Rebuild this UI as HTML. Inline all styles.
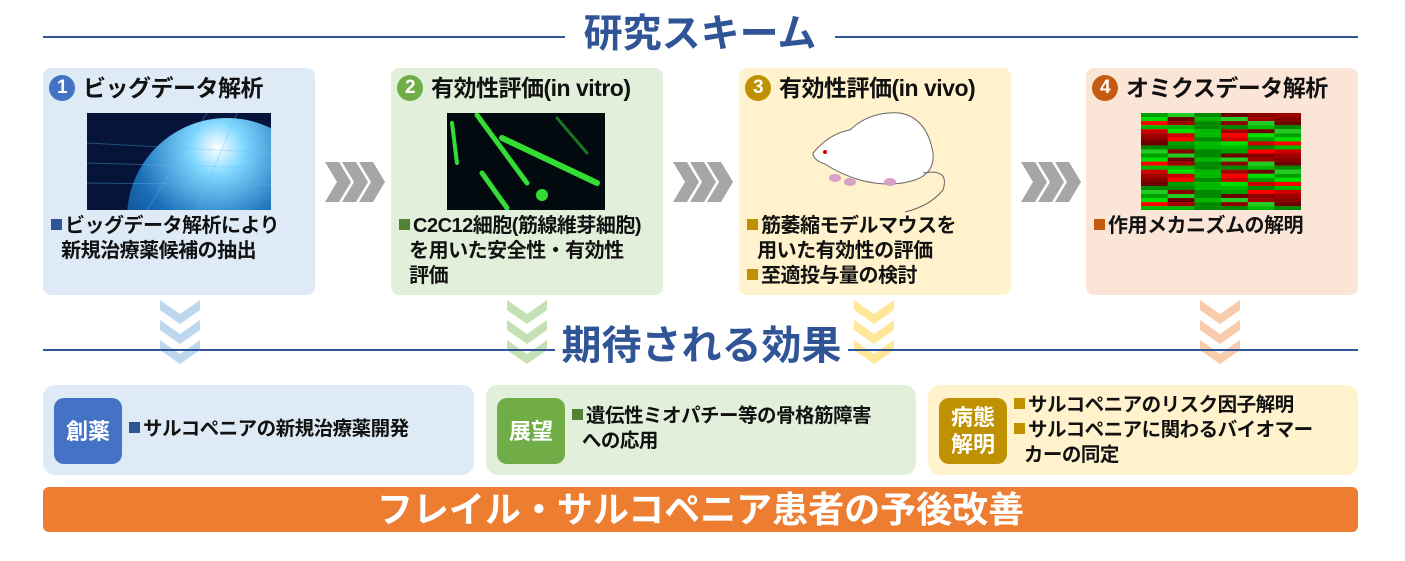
<!DOCTYPE html>
<html><head><meta charset="utf-8"><style>
*{margin:0;padding:0;box-sizing:border-box}
body{width:1405px;height:561px;background:#fff;position:relative;overflow:hidden;font-family:"Liberation Sans","Noto Sans CJK JP",sans-serif;font-weight:bold;color:#111}
.abs{position:absolute}
.line{position:absolute;height:2px;background:#2f5597}
.title{position:absolute;color:#2f5597;font-size:39px;text-align:center;white-space:nowrap;line-height:44px}
.card{position:absolute;top:68px;height:227px;width:272px;border-radius:8px}
.hd{position:absolute;left:6px;top:6px;font-size:23px;white-space:nowrap;line-height:28px;display:flex;align-items:center;letter-spacing:-0.5px}
.num{display:inline-block;width:26px;height:26px;border-radius:50%;color:#fff;text-align:center;line-height:26px;font-size:19px;margin-right:8px}
.tx{position:absolute;left:8px;top:146px;font-size:20px;line-height:25px;white-space:nowrap;letter-spacing:-0.5px}
.sq{display:inline-block;width:11px;height:11px;margin-right:3px;vertical-align:2px}
.bx{position:absolute;top:385px;height:90px;border-radius:12px}
.badge{position:absolute;left:11px;top:13px;width:68px;height:66px;border-radius:10px;color:#fff;font-size:22px;line-height:27px;display:flex;align-items:center;justify-content:center;text-align:center}
.bt{position:absolute;font-size:19.5px;line-height:25px;white-space:nowrap;letter-spacing:-0.5px}
</style></head><body>
<div class="line" style="left:43px;top:36px;width:522px"></div>
<div class="line" style="left:835px;top:36px;width:523px"></div>
<div class="title" style="left:565px;width:270px;top:13px">研究スキーム</div>

<div class="card" style="left:43px;background:#deebf7">
<div class="hd"><span class="num" style="background:#4472c4">1</span>ビッグデータ解析</div>
<svg class="abs" style="left:44px;top:45px" width="184" height="97"><defs><radialGradient id="g1" cx="0.45" cy="0.15" r="0.9"><stop offset="0" stop-color="#ffffff"/><stop offset="0.15" stop-color="#7fd7ff"/><stop offset="0.45" stop-color="#1a6fb8"/><stop offset="1" stop-color="#061a4a"/></radialGradient></defs><rect width="184" height="97" fill="#07143a"/><circle cx="140" cy="105" r="100" fill="url(#g1)"/><g stroke="#5fc0ff" stroke-opacity="0.35"><line x1="0" y1="30" x2="184" y2="40"/><line x1="0" y1="50" x2="184" y2="55"/><line x1="0" y1="70" x2="184" y2="72"/><line x1="60" y1="97" x2="120" y2="0"/><line x1="110" y1="97" x2="150" y2="0"/></g></svg>
<div class="tx"><span class="sq" style="background:#2f5597"></span>ビッグデータ解析により<br>&nbsp;&nbsp;新規治療薬候補の抽出</div>
</div>

<div class="card" style="left:391px;background:#e2efda">
<div class="hd"><span class="num" style="background:#70ad47">2</span>有効性評価(in vitro)</div>
<svg class="abs" style="left:56px;top:45px" width="158" height="97"><rect width="158" height="97" fill="#020a10"/><g stroke="#33dd33" stroke-linecap="round"><line x1="30" y1="2" x2="80" y2="70" stroke-width="5"/><line x1="55" y1="25" x2="150" y2="70" stroke-width="6"/><line x1="35" y1="60" x2="60" y2="95" stroke-width="5"/><line x1="110" y1="5" x2="140" y2="40" stroke-width="3" stroke-opacity="0.5"/><line x1="5" y1="10" x2="10" y2="50" stroke-width="4"/></g><circle cx="95" cy="82" r="6" fill="#33dd33"/></svg>
<div class="tx" style="top:146px"><span class="sq" style="background:#548235"></span>C2C12細胞(筋線維芽細胞)<br>&nbsp;&nbsp;を用いた安全性・有効性<br>&nbsp;&nbsp;評価</div>
</div>

<div class="card" style="left:739px;background:#fff2cc">
<div class="hd"><span class="num" style="background:#bf9000">3</span>有効性評価(in vivo)</div>
<svg class="abs" style="left:66px;top:40px" width="150" height="105"><g fill="#fff" stroke="#666" stroke-width="1"><path d="M8 45 Q25 25 45 22 Q65 3 95 5 Q122 10 128 45 Q130 65 110 72 Q85 80 55 72 Q35 66 20 56 Q8 52 8 45 Z"/><path d="M118 65 Q145 60 138 82 Q125 98 100 104" fill="none"/></g><circle cx="20" cy="44" r="2" fill="#d00"/><g fill="#d9a0c8"><ellipse cx="30" cy="70" rx="6" ry="4"/><ellipse cx="45" cy="74" rx="6" ry="4"/><ellipse cx="85" cy="74" rx="6" ry="4"/></g></svg>
<div class="tx"><span class="sq" style="background:#bf9000"></span>筋萎縮モデルマウスを<br>&nbsp;&nbsp;用いた有効性の評価<br><span class="sq" style="background:#bf9000"></span>至適投与量の検討</div>
</div>

<div class="card" style="left:1086px;background:#fbe5d6">
<div class="hd"><span class="num" style="background:#c55a11">4</span>オミクスデータ解析</div>
<svg class="abs" style="left:55px;top:45px" width="160" height="97" id="hm"></svg>
<div class="tx"><span class="sq" style="background:#c55a11"></span>作用メカニズムの解明</div>
</div>

<svg class="abs" style="left:0;top:0" width="1405" height="561">
<g fill="#a6a6a6">
<path id="ch" d="M325 162h14l12 20-12 20h-14l12-20z"/>
<use href="#ch" x="17"/><use href="#ch" x="34"/>
<use href="#ch" x="348"/><use href="#ch" x="365"/><use href="#ch" x="382"/>
<use href="#ch" x="696"/><use href="#ch" x="713"/><use href="#ch" x="730"/>
</g>
<g fill="#bdd7ee"><path d="M160 300l20 14 20-14v10l-20 14-20-14z"/><path d="M160 320l20 14 20-14v10l-20 14-20-14z"/><path d="M160 340l20 14 20-14v10l-20 14-20-14z"/></g>
<g fill="#c5e0b4"><path d="M507 300l20 14 20-14v10l-20 14-20-14z"/><path d="M507 320l20 14 20-14v10l-20 14-20-14z"/><path d="M507 340l20 14 20-14v10l-20 14-20-14z"/></g>
<g fill="#ffe699"><path d="M854 300l20 14 20-14v10l-20 14-20-14z"/><path d="M854 320l20 14 20-14v10l-20 14-20-14z"/><path d="M854 340l20 14 20-14v10l-20 14-20-14z"/></g>
<g fill="#f8cbad"><path d="M1200 300l20 14 20-14v10l-20 14-20-14z"/><path d="M1200 320l20 14 20-14v10l-20 14-20-14z"/><path d="M1200 340l20 14 20-14v10l-20 14-20-14z"/></g>
</svg>

<div class="line" style="left:43px;top:349px;width:512px"></div>
<div class="line" style="left:848px;top:349px;width:510px"></div>
<div class="title" style="left:555px;width:293px;top:324px;font-size:40px">期待される効果</div>

<div class="bx" style="left:43px;width:431px;background:#deebf7">
<div class="badge" style="background:#4472c4">創薬</div>
<div class="bt" style="left:86px;top:32px"><span class="sq" style="background:#2f5597"></span>サルコペニアの新規治療薬開発</div>
</div>
<div class="bx" style="left:486px;width:430px;background:#e2efda">
<div class="badge" style="background:#70ad47">展望</div>
<div class="bt" style="left:86px;top:19px"><span class="sq" style="background:#548235"></span>遺伝性ミオパチー等の骨格筋障害<br>&nbsp;&nbsp;への応用</div>
</div>
<div class="bx" style="left:928px;width:430px;background:#fff2cc">
<div class="badge" style="background:#bf9000">病態<br>解明</div>
<div class="bt" style="left:86px;top:8px"><span class="sq" style="background:#bf9000"></span>サルコペニアのリスク因子解明<br><span class="sq" style="background:#bf9000"></span>サルコペニアに関わるバイオマー<br>&nbsp;&nbsp;カーの同定</div>
</div>

<div class="abs" style="left:43px;top:487px;width:1315px;height:45px;background:#ed7d31;border-radius:6px;color:#fff;font-size:36px;line-height:45px;text-align:center">フレイル・サルコペニア患者の予後改善</div>

<script>
var s=document.getElementById('hm'),c=['#00a000','#6b0000','#cc0000','#00e000','#008800','#a00000','#ff0000','#22cc22','#880000','#00b800'],h='';
for(var i=0;i<6;i++)for(var j=0;j<24;j++){h+='<rect x="'+(i*26.7)+'" y="'+(j*4.05)+'" width="27" height="4.2" fill="'+c[(i*7+j*3+((i*j)%5))%10]+'"/>';}
s.innerHTML=h;
</script>
</body></html>
